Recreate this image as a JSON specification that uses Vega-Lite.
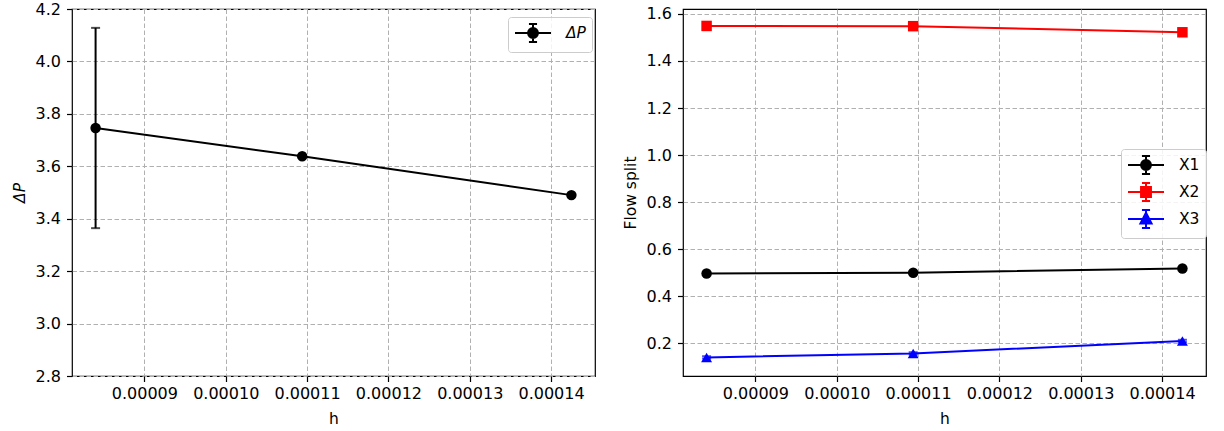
{
  "$schema": "https://vega.github.io/schema/vega-lite/v6.json",
  "padding": {"left": 11, "top": 0, "right": 0, "bottom": 0},
  "background": "white",
  "config": {
    "font": "DejaVu Sans",
    "view": {"stroke": "black", "strokeWidth": 1.2},
    "style": {
      "guide-label": {"font": "DejaVu Sans", "fontSize": 16, "fill": "black"},
      "guide-title": {"font": "DejaVu Sans", "fontSize": 15.5, "fill": "black", "fontWeight": "normal"}
    },
    "axis": {
      "labelFont": "DejaVu Sans", "labelFontSize": 16, "labelColor": "black",
      "titleFont": "DejaVu Sans", "titleFontSize": 15.5, "titleFontWeight": "normal", "titleColor": "black",
      "domain": false, "grid": true, "gridColor": "#b0b0b0", "gridDash": [4.5, 2.5], "gridWidth": 1,
      "tickColor": "black", "tickSize": 5.5, "tickWidth": 1.2, "labelPadding": 4
    },
    "axisY": {"labelPadding": 6, "titlePadding": 8},
    "axisX": {"titlePadding": 10, "labelFlush": false, "labelOverlap": false},
    "legend": {
      "labelFont": "DejaVu Sans", "labelFontSize": 15.5, "labelColor": "black",
      "strokeColor": "#cccccc", "fillColor": "rgba(255,255,255,0.85)", "cornerRadius": 3,
      "padding": 6, "symbolSize": 324, "symbolStrokeWidth": 2, "labelOffset": 32, "rowPadding": 1
    }
  },
  "datasets": {
    "dp": [
      {"h": 0.0000840, "dp": 3.746, "err": 0.382, "series": "ΔP"},
      {"h": 0.0001094, "dp": 3.638, "err": 0.005, "series": "ΔP"},
      {"h": 0.0001425, "dp": 3.490, "err": 0.005, "series": "ΔP"}
    ],
    "flow": [
      {"h": 0.0000840, "value": 0.497, "err": 0.005, "series": "X1"},
      {"h": 0.0001094, "value": 0.500, "err": 0.005, "series": "X1"},
      {"h": 0.0001425, "value": 0.518, "err": 0.005, "series": "X1"},
      {"h": 0.0000840, "value": 1.549, "err": 0.005, "series": "X2"},
      {"h": 0.0001094, "value": 1.548, "err": 0.005, "series": "X2"},
      {"h": 0.0001425, "value": 1.522, "err": 0.005, "series": "X2"},
      {"h": 0.0000840, "value": 0.140, "err": 0.005, "series": "X3"},
      {"h": 0.0001094, "value": 0.157, "err": 0.005, "series": "X3"},
      {"h": 0.0001425, "value": 0.210, "err": 0.005, "series": "X3"}
    ]
  },
  "spacing": 26,
  "resolve": {
    "scale": {"x": "independent", "y": "independent", "color": "independent"},
    "legend": {"color": "independent"}
  },
  "hconcat": [
    {
      "width": 523, "height": 367,
      "data": {"name": "dp"},
      "layer": [
        {
          "mark": {"type": "errorbar", "ticks": {"size": 9, "thickness": 2, "color": "black"}, "thickness": 2, "color": "black"},
          "encoding": {
            "x": {"field": "h", "type": "quantitative", "title": "h",
              "scale": {"domain": [0.0000811, 0.0001454], "nice": false, "zero": false},
              "axis": {"values": [0.00009, 0.0001, 0.00011, 0.00012, 0.00013, 0.00014], "format": ".5f", "labelFontSize": 16, "titleFontSize": 15.5}},
            "y": {"field": "dp", "type": "quantitative", "title": "ΔP",
              "scale": {"domain": [2.8, 4.2], "nice": false, "zero": false},
              "axis": {"values": [2.8, 3.0, 3.2, 3.4, 3.6, 3.8, 4.0, 4.2], "format": ".1f", "titleFontStyle": "italic", "labelFontSize": 16, "titleFontSize": 15.5}},
            "yError": {"field": "err"}
          }
        },
        {
          "mark": {"type": "line", "strokeWidth": 2},
          "encoding": {
            "x": {"field": "h", "type": "quantitative", "title": "h"},
            "y": {"field": "dp", "type": "quantitative", "title": "ΔP"},
            "color": {"field": "series", "type": "nominal", "scale": {"range": ["black"]},
              "legend": {
                "orient": "none", "legendX": 436, "legendY": 8, "title": null, "labelFontStyle": "italic", "labelFontSize": 15.5,
                "encode": {"symbols": {"update": {
                  "shape": {"value": "M-1,0H3M1,-1V1M0.55,-1H1.45M0.55,1H1.45M1.55,0L1.508,0.211L1.389,0.389L1.211,0.508L1,0.55L0.789,0.508L0.611,0.389L0.492,0.211L0.45,0L0.492,-0.211L0.611,-0.389L0.789,-0.508L1,-0.55L1.211,-0.508L1.389,-0.389L1.508,-0.211Z"},
                  "fill": {"value": "black"}, "stroke": {"value": "black"}, "strokeWidth": {"value": 2}, "opacity": {"value": 1}
                }}}
              }}
          }
        },
        {
          "mark": {"type": "point", "filled": true, "size": 110, "opacity": 1, "color": "black"},
          "encoding": {
            "x": {"field": "h", "type": "quantitative", "title": "h"},
            "y": {"field": "dp", "type": "quantitative", "title": "ΔP"}
          }
        }
      ]
    },
    {
      "width": 523, "height": 367,
      "data": {"name": "flow"},
      "layer": [
        {
          "mark": {"type": "line", "strokeWidth": 2},
          "encoding": {
            "x": {"field": "h", "type": "quantitative", "title": "h",
              "scale": {"domain": [0.0000811, 0.0001454], "nice": false, "zero": false},
              "axis": {"values": [0.00009, 0.0001, 0.00011, 0.00012, 0.00013, 0.00014], "format": ".5f", "labelFontSize": 16, "titleFontSize": 15.5}},
            "y": {"field": "value", "type": "quantitative", "title": "Flow split",
              "scale": {"domain": [0.061, 1.621], "nice": false, "zero": false},
              "axis": {"values": [0.2, 0.4, 0.6, 0.8, 1.0, 1.2, 1.4, 1.6], "format": ".1f", "labelFontSize": 16, "titleFontSize": 15.5}},
            "color": {"field": "series", "type": "nominal",
              "scale": {"domain": ["X1", "X2", "X3"], "range": ["black", "#ff0000", "#0000ff"]},
              "legend": {
                "orient": "none", "legendX": 438, "legendY": 140, "title": null, "labelFontSize": 15.5,
                "encode": {"symbols": {"update": {
                  "shape": {"signal": "datum.value === 'X2' ? 'M-1,0H3M1,-1V1M0.55,-1H1.45M0.55,1H1.45M0.45,-0.55H1.55V0.55H0.45Z' : datum.value === 'X3' ? 'M-1,0H3M1,-1V1M0.55,-1H1.45M0.55,1H1.45M1,-0.7L1.62,0.5H0.38Z' : 'M-1,0H3M1,-1V1M0.55,-1H1.45M0.55,1H1.45M1.55,0L1.508,0.211L1.389,0.389L1.211,0.508L1,0.55L0.789,0.508L0.611,0.389L0.492,0.211L0.45,0L0.492,-0.211L0.611,-0.389L0.789,-0.508L1,-0.55L1.211,-0.508L1.389,-0.389L1.508,-0.211Z'"},
                  "fill": {"signal": "datum.value === 'X2' ? '#ff0000' : datum.value === 'X3' ? '#0000ff' : 'black'"},
                  "stroke": {"signal": "datum.value === 'X2' ? '#ff0000' : datum.value === 'X3' ? '#0000ff' : 'black'"},
                  "strokeWidth": {"value": 2}, "opacity": {"value": 1}
                }}}
              }}
          }
        },
        {
          "mark": {"type": "errorbar", "ticks": {"size": 9, "thickness": 2}, "thickness": 2},
          "encoding": {
            "x": {"field": "h", "type": "quantitative", "title": "h"},
            "y": {"field": "value", "type": "quantitative", "title": "Flow split"},
            "yError": {"field": "err"},
            "color": {"field": "series", "type": "nominal", "legend": null}
          }
        },
        {
          "transform": [{"filter": "datum.series === 'X1'"}],
          "mark": {"type": "point", "filled": true, "opacity": 1, "shape": "circle", "size": 110},
          "encoding": {
            "x": {"field": "h", "type": "quantitative", "title": "h"},
            "y": {"field": "value", "type": "quantitative", "title": "Flow split"},
            "color": {"field": "series", "type": "nominal", "legend": null}
          }
        },
        {
          "transform": [{"filter": "datum.series === 'X2'"}],
          "mark": {"type": "point", "filled": true, "opacity": 1, "shape": "square", "size": 110},
          "encoding": {
            "x": {"field": "h", "type": "quantitative", "title": "h"},
            "y": {"field": "value", "type": "quantitative", "title": "Flow split"},
            "color": {"field": "series", "type": "nominal", "legend": null}
          }
        },
        {
          "transform": [{"filter": "datum.series === 'X3'"}],
          "mark": {"type": "point", "filled": true, "opacity": 1, "shape": "triangle-up", "size": 120},
          "encoding": {
            "x": {"field": "h", "type": "quantitative", "title": "h"},
            "y": {"field": "value", "type": "quantitative", "title": "Flow split"},
            "color": {"field": "series", "type": "nominal", "legend": null}
          }
        }
      ]
    }
  ]
}
